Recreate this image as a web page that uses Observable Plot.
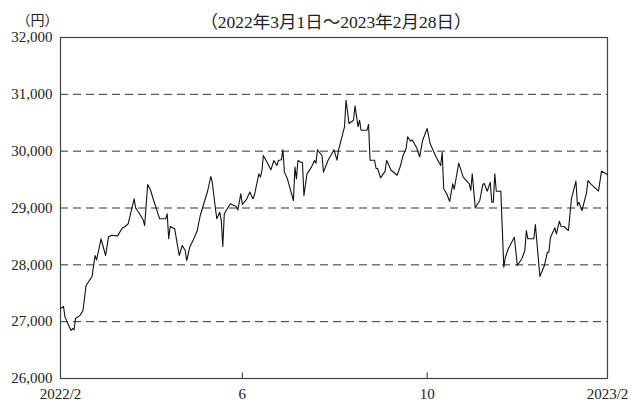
<!DOCTYPE html>
<html>
<head>
<meta charset="utf-8">
<script src="https://cdn.jsdelivr.net/npm/d3@7"></script>
<script src="https://cdn.jsdelivr.net/npm/@observablehq/plot@0.6"></script>
<style>
  body { margin: 0; background: #fff; }
  #chart { width: 631px; height: 404px; }
</style>
</head>
<body>
<div id="chart"></div>
<script>
const dates = [
  "2022-03-01","2022-03-03","2022-03-04","2022-03-08","2022-03-09","2022-03-10","2022-03-11","2022-03-14","2022-03-16","2022-03-18",
  "2022-03-22","2022-03-24","2022-03-25","2022-03-28","2022-03-31","2022-04-02","2022-04-04","2022-04-08","2022-04-11","2022-04-13",
  "2022-04-15","2022-04-19","2022-04-20","2022-04-22","2022-04-25","2022-04-26","2022-04-28","2022-04-30","2022-05-02","2022-05-06",
  "2022-05-10","2022-05-11","2022-05-12","2022-05-13","2022-05-16","2022-05-17","2022-05-19","2022-05-21","2022-05-23","2022-05-24",
  "2022-05-26","2022-05-29","2022-05-31","2022-06-02","2022-06-07","2022-06-09","2022-06-10","2022-06-12","2022-06-13","2022-06-15",
  "2022-06-16","2022-06-17","2022-06-18","2022-06-22","2022-06-26","2022-06-27","2022-06-29","2022-06-30","2022-07-03","2022-07-05",
  "2022-07-07","2022-07-08","2022-07-11","2022-07-12","2022-07-13","2022-07-14","2022-07-17","2022-07-19","2022-07-21","2022-07-23",
  "2022-07-24","2022-07-26","2022-07-27","2022-07-28","2022-07-30","2022-08-03","2022-08-04","2022-08-05","2022-08-06","2022-08-08",
  "2022-08-09","2022-08-10","2022-08-12","2022-08-15","2022-08-17","2022-08-18","2022-08-19","2022-08-22","2022-08-23","2022-08-26",
  "2022-08-30","2022-09-01","2022-09-02","2022-09-06","2022-09-07","2022-09-09","2022-09-12","2022-09-13","2022-09-15","2022-09-16",
  "2022-09-17","2022-09-21","2022-09-22","2022-09-23","2022-09-26","2022-09-27","2022-09-28","2022-09-30","2022-10-03","2022-10-04",
  "2022-10-07","2022-10-11","2022-10-13","2022-10-15","2022-10-17","2022-10-18","2022-10-20","2022-10-21","2022-10-24","2022-10-26",
  "2022-10-28","2022-10-31","2022-11-02","2022-11-06","2022-11-09","2022-11-10","2022-11-11","2022-11-13","2022-11-15","2022-11-17",
  "2022-11-18","2022-11-21","2022-11-24","2022-11-28","2022-11-29","2022-11-30","2022-12-02","2022-12-05","2022-12-07","2022-12-08",
  "2022-12-10","2022-12-12","2022-12-13","2022-12-14","2022-12-15","2022-12-16","2022-12-19","2022-12-21","2022-12-22","2022-12-24",
  "2022-12-28","2022-12-30","2023-01-02","2023-01-04","2023-01-05","2023-01-06","2023-01-10","2023-01-11","2023-01-14","2023-01-17",
  "2023-01-19","2023-01-20","2023-01-21","2023-01-24","2023-01-25","2023-01-27","2023-01-28","2023-01-30","2023-02-02","2023-02-04",
  "2023-02-07","2023-02-08","2023-02-09","2023-02-11","2023-02-14","2023-02-15","2023-02-17","2023-02-22","2023-02-24","2023-02-28"
];
const prices = [
  27230,27270,27080,26845,26880,26857,27055,27110,27196,27636,
  27795,28164,28088,28458,28164,28496,28521,28510,28645,28675,
  28722,29162,29003,28926,28792,28692,29413,29308,29132,28810,
  28810,28898,28458,28674,28634,28475,28164,28340,28252,28076,
  28310,28475,28604,28868,29308,29554,29454,29014,28810,28926,
  28780,28322,28898,29074,29026,28968,29250,29062,29162,29280,
  29162,29220,29601,29543,29648,29924,29777,29672,29836,29748,
  29836,29850,30024,29631,29513,29132,29719,29513,29836,29806,
  29806,29220,29601,29719,29836,29790,30024,29924,29631,29836,
  30024,29841,30017,30429,30897,30487,30545,30798,30429,30545,
  30369,30369,30469,29841,29841,29695,29695,29531,29648,29841,
  29665,29577,29724,29929,30047,30253,30175,30200,30059,29901,
  30193,30399,30129,29894,29748,29982,29338,29250,29114,29426,
  29330,29789,29543,29426,29308,29601,29003,29132,29413,29430,
  29296,29454,29102,29102,29601,29296,29296,27958,28134,28282,
  28486,27988,28106,28252,28604,28458,28458,28710,27795,27988,
  28222,28222,28475,28651,28546,28768,28680,28674,28604,29162,
  29472,29044,29100,28956,29261,29484,29420,29296,29648,29589
];
const yTicks = [26000, 27000, 28000, 29000, 30000, 31000, 32000];
const gridValues = [27000, 28000, 29000, 30000, 31000];
const xTickDates = ["2022-03-01", "2022-06-30", "2022-10-31", "2023-02-28"];
const xTickLabels = ["2022/2", "6", "10", "2023/2"];
const innerTickDates = ["2022-06-30", "2022-10-31"];
const unitLabel = "（円）";
const periodLabel = "（2022年3月1日～2023年2月28日）";

const parse = s => new Date(s + "T00:00:00Z");
const data = dates.map((d, i) => ({date: parse(d), price: prices[i]}));
const xTicks = xTickDates.map(parse);
const labelFor = new Map(xTicks.map((d, i) => [+d, xTickLabels[i]]));
const fmt = d3.format(",");

const font = "'Liberation Serif', 'Noto Sans CJK JP', serif";

const chart = Plot.plot({
  width: 631,
  height: 404,
  marginLeft: 60,
  marginRight: 24,
  marginTop: 37,
  marginBottom: 26,
  style: {fontFamily: font, fontSize: "15px", color: "#222", background: "#fff"},
  x: {
    type: "utc",
    domain: [parse("2022-03-01"), parse("2023-02-28")],
    ticks: xTicks,
    tickFormat: d => labelFor.get(+d),
    tickSize: 0,
    tickPadding: 10,
    label: null
  },
  y: {
    domain: [26000, 32000],
    ticks: yTicks,
    tickFormat: fmt,
    tickSize: 0,
    tickPadding: 8,
    label: null
  },
  marks: [
    Plot.ruleY(gridValues, {stroke: "#333", strokeWidth: 1, strokeDasharray: "8,5"}),
    Plot.ruleX(innerTickDates.map(parse), {y1: 26000, y2: 26100, stroke: "#333"}),
    Plot.frame({stroke: "#444", strokeWidth: 1.2}),
    Plot.line(data, {x: "date", y: "price", stroke: "#111", strokeWidth: 1.1}),
    Plot.text([unitLabel], {frameAnchor: "top-left", textAnchor: "middle", dx: -23, dy: -22, fontSize: 14, fill: "#222"}),
    Plot.text([periodLabel], {frameAnchor: "top", dx: 2, dy: -22, fontSize: 17.5, fill: "#222"})
  ]
});
document.getElementById("chart").append(chart);
</script>
</body>
</html>
